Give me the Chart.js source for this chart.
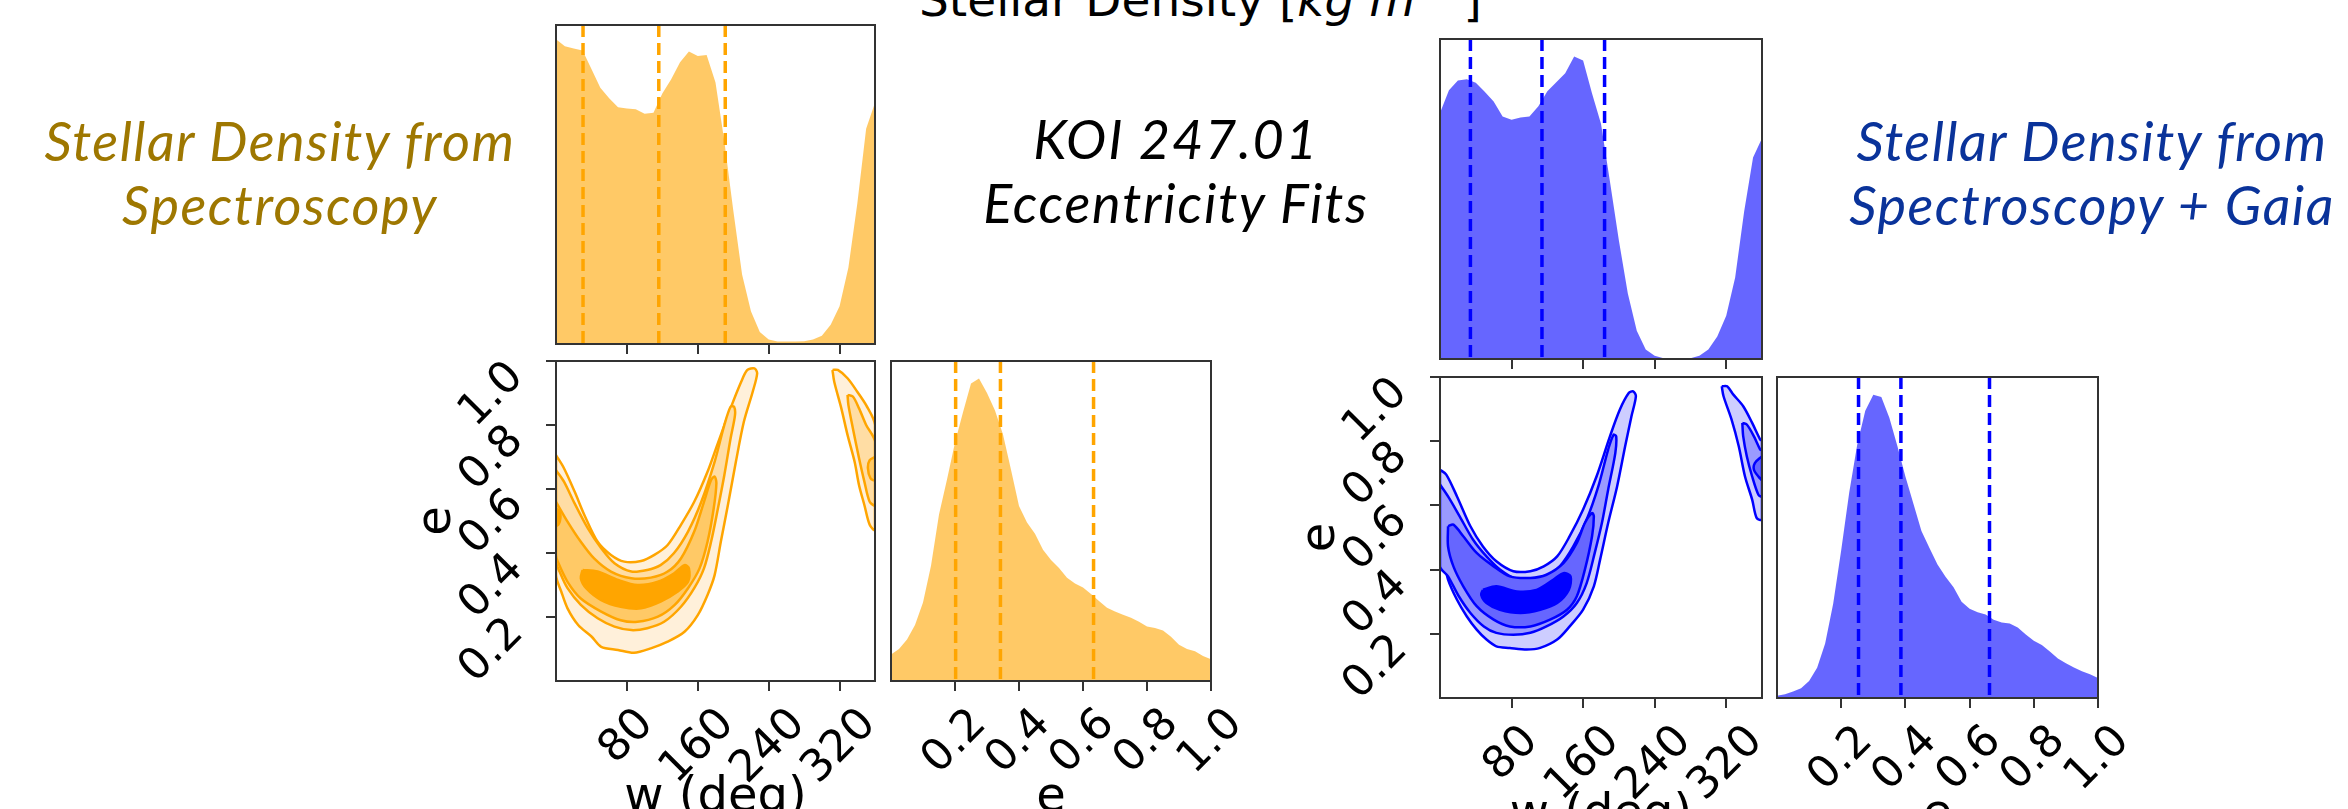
<!DOCTYPE html>
<html lang="en">
<head>
  <meta charset="UTF-8">
  <title>KOI 247.01 Eccentricity Fits</title>
  <script src="https://cdn.jsdelivr.net/npm/chart.js"></script>
  <style>
    html, body {
      margin: 0;
      padding: 0;
      background: #ffffff;
      width: 2348px;
      height: 809px;
      overflow: hidden;
      position: relative;
    }
    .panel { position: absolute; }
    .label {
      position: absolute;
      font-family: Lato, "Open Sans", sans-serif;
      font-style: italic;
      font-size: 54px;
      line-height: 64px;
      letter-spacing: 1.5px;
      text-align: center;
      white-space: nowrap;
      transform: translateX(-50%);
    }
    #title {
      position: absolute;
      left: 919px;
      top: -24px;
      font-family: "DejaVu Sans", sans-serif;
      font-size: 47px;
      line-height: 47px;
      white-space: nowrap;
      color: #000;
    }
    #title sup { font-size: 0.7em; vertical-align: 0.55em; line-height: 0; }
  </style>
</head>
<body>
  <div id="title">Stellar Density [<i>kg m</i><sup>−3</sup>]</div>
  <div class="label" style="left:280px; top:109px; color:#9e7700;">Stellar Density from<br>Spectroscopy</div>
  <div class="label" style="left:1176px; top:107px; color:#000; letter-spacing:1.8px;">KOI 247.01<br>Eccentricity Fits</div>
  <div class="label" style="left:2092px; top:109px; color:#0a339a;">Stellar Density from<br>Spectroscopy + Gaia</div>

  <script>
    // ---- axes ----
    const wTicks = [80, 160, 240, 320];
    const eTicks = [0.2, 0.4, 0.6, 0.8, 1.0];

    // ---- 1D histograms (relative height) ----
    const wBins = [0,10,20,30,40,50,60,70,80,90,100,110,120,130,140,150,160,170,180,190,200,210,220,230,240,250,260,270,280,290,300,310,320,330,340,350,360];
    const orangeW = [0.955,0.933,0.926,0.92,0.862,0.803,0.77,0.742,0.738,0.736,0.722,0.725,0.785,0.83,0.883,0.917,0.903,0.906,0.82,0.635,0.42,0.218,0.103,0.038,0.014,0.008,0.008,0.008,0.009,0.014,0.026,0.06,0.118,0.24,0.44,0.675,0.756];
    const blueW = [0.769,0.84,0.87,0.874,0.863,0.835,0.805,0.758,0.748,0.755,0.758,0.79,0.837,0.865,0.893,0.945,0.933,0.83,0.735,0.555,0.37,0.205,0.088,0.03,0.01,0.002,0,0.001,0.002,0.01,0.03,0.07,0.135,0.255,0.46,0.63,0.69];

    const eBins = [0,0.025,0.05,0.075,0.1,0.125,0.15,0.175,0.2,0.225,0.25,0.275,0.3,0.325,0.35,0.375,0.4,0.425,0.45,0.475,0.5,0.525,0.55,0.575,0.6,0.625,0.65,0.675,0.7,0.725,0.75,0.775,0.8,0.825,0.85,0.875,0.9,0.925,0.95,0.975,1];
    const orangeE = [0.083,0.10,0.13,0.175,0.245,0.36,0.52,0.63,0.745,0.84,0.93,0.945,0.90,0.845,0.77,0.66,0.547,0.495,0.46,0.41,0.378,0.353,0.323,0.305,0.292,0.272,0.25,0.229,0.217,0.207,0.198,0.185,0.17,0.166,0.158,0.138,0.113,0.10,0.093,0.078,0.068];
    const blueE = [0.007,0.012,0.02,0.03,0.053,0.094,0.17,0.294,0.46,0.64,0.79,0.895,0.945,0.938,0.873,0.785,0.69,0.605,0.52,0.467,0.416,0.378,0.345,0.30,0.278,0.267,0.26,0.244,0.235,0.232,0.22,0.198,0.178,0.165,0.145,0.123,0.108,0.095,0.083,0.074,0.062];

    // quantile markers
    const orangeWQ = [30.5, 116, 191];
    const blueWQ = [34, 114, 184];
    const orangeEQ = [0.202, 0.342, 0.633];
    const blueEQ = [0.254, 0.386, 0.662];

    // ---- 2D contours, [w, e] vertices, outer level first ----
    const orangeL1Left = [[0,0.706],[9,0.665],[21,0.592],[32,0.519],[47,0.435],[62,0.394],[77,0.373],[96,0.375],[111,0.394],[126,0.425],[141,0.488],[156,0.56],[171,0.654],[182,0.738],[197,0.852],[209,0.935],[216,0.972],[224,0.977],[227,0.961],[222,0.904],[212,0.81],[203,0.685],[194,0.55],[186,0.435],[179,0.331],[171,0.269],[160,0.206],[145,0.154],[126,0.123],[107,0.102],[88,0.088],[70,0.097],[51,0.107],[40,0.139],[25,0.175],[13,0.227],[6,0.279],[0,0.331],[0,0.706]];
    const orangeL1Right = [[312,0.972],[318,0.972],[329,0.946],[340,0.904],[350,0.862],[360,0.8],[360,0.472],[354,0.488],[348,0.55],[342,0.612],[337,0.685],[329,0.769],[322,0.852],[314,0.935],[312,0.972]];
    const orangeL2Left = [[0,0.659],[9,0.623],[21,0.555],[36,0.477],[51,0.415],[66,0.368],[85,0.342],[103,0.347],[118,0.362],[133,0.399],[149,0.467],[164,0.56],[179,0.685],[190,0.8],[197,0.857],[201,0.857],[202,0.831],[197,0.758],[190,0.644],[182,0.529],[175,0.435],[167,0.352],[156,0.29],[141,0.232],[122,0.185],[103,0.165],[85,0.159],[66,0.17],[47,0.196],[28,0.238],[13,0.29],[4,0.342],[0,0.373],[0,0.659]];
    const orangeL2Right = [[329,0.894],[335,0.889],[342,0.852],[350,0.8],[360,0.748],[360,0.55],[354,0.56],[348,0.623],[342,0.696],[335,0.79],[330,0.862],[329,0.894]];
    const orangeL3Left = [[0,0.56],[13,0.498],[28,0.435],[43,0.383],[62,0.342],[85,0.321],[107,0.323],[126,0.342],[141,0.383],[156,0.467],[167,0.56],[175,0.628],[179,0.639],[181,0.618],[178,0.54],[171,0.435],[162,0.352],[149,0.29],[134,0.238],[115,0.201],[92,0.185],[73,0.19],[51,0.217],[28,0.258],[13,0.31],[2,0.373],[0,0.394],[0,0.56]];
    const orangeL3Right = [[360,0.7],[354,0.69],[352,0.665],[355,0.633],[360,0.628],[360,0.7]];
    const orangeL4 = [[30,0.347],[47,0.342],[70,0.316],[92,0.3],[115,0.31],[133,0.336],[145,0.362],[150,0.352],[149,0.31],[137,0.279],[118,0.248],[96,0.227],[73,0.232],[51,0.253],[34,0.29],[28,0.321],[30,0.347]];
    const orangeL4Edge = [[0,0.54],[4,0.53],[5,0.51],[3,0.49],[0,0.485],[0,0.54]];

    const blueL1Left = [[0,0.711],[7,0.696],[19,0.628],[34,0.535],[48,0.472],[63,0.426],[82,0.395],[101,0.395],[116,0.41],[131,0.441],[145,0.504],[160,0.587],[175,0.69],[190,0.815],[201,0.898],[211,0.95],[216,0.955],[219,0.94],[214,0.877],[207,0.784],[198,0.659],[188,0.545],[179,0.431],[172,0.348],[160,0.275],[145,0.223],[131,0.182],[112,0.156],[97,0.151],[78,0.156],[63,0.161],[52,0.182],[41,0.213],[30,0.254],[19,0.306],[9,0.369],[4,0.431],[0,0.462],[0,0.711]];
    const blueL1Right = [[315,0.971],[321,0.971],[328,0.945],[339,0.909],[349,0.857],[358,0.805],[360,0.8],[360,0.556],[354,0.561],[349,0.618],[341,0.69],[334,0.784],[326,0.867],[317,0.94],[315,0.971]];
    const blueL2Left = [[0,0.665],[9,0.628],[22,0.566],[37,0.493],[52,0.441],[67,0.4],[86,0.369],[104,0.363],[119,0.379],[134,0.41],[149,0.472],[164,0.556],[177,0.659],[188,0.774],[194,0.82],[197,0.815],[196,0.763],[188,0.649],[181,0.545],[173,0.452],[164,0.358],[153,0.296],[138,0.254],[119,0.223],[101,0.203],[82,0.197],[63,0.203],[49,0.223],[34,0.265],[21,0.317],[9,0.379],[0,0.41],[0,0.665]];
    const blueL2Right = [[338,0.857],[343,0.852],[351,0.815],[358,0.774],[360,0.77],[360,0.628],[356,0.633],[349,0.69],[343,0.753],[339,0.815],[338,0.857]];
    const blueL3Left = [[9,0.535],[15,0.54],[26,0.504],[41,0.452],[60,0.41],[78,0.379],[101,0.374],[119,0.384],[138,0.42],[153,0.483],[162,0.545],[170,0.576],[172,0.566],[170,0.504],[162,0.4],[153,0.317],[142,0.275],[123,0.244],[101,0.223],[78,0.223],[60,0.244],[41,0.286],[26,0.348],[15,0.41],[9,0.472],[9,0.535]];
    const blueL3Right = [[360,0.753],[352,0.732],[351,0.711],[356,0.69],[360,0.68],[360,0.753]];
    const blueL4 = [[48,0.337],[63,0.348],[86,0.332],[108,0.337],[127,0.369],[138,0.389],[146,0.379],[144,0.337],[131,0.296],[112,0.275],[90,0.265],[67,0.275],[52,0.296],[46,0.322],[48,0.337]];

    const TICK_PX = 44;
    const TICK_FONT = TICK_PX + 'px "DejaVu Sans"';
    const LABEL_FONT = '48px "DejaVu Sans"';

    // frame, rotated tick labels and axis titles, all placed with the chart's scales
    const cornerPlugin = {
      id: 'corner',
      afterDraw(chart, args, o) {
        const { ctx, chartArea: a } = chart;
        const fmt = (f, v) => f === 'int' ? String(v) : v.toFixed(1);
        const rot = (txt, cx, cy) => {
          ctx.save();
          ctx.translate(cx, cy);
          ctx.rotate(-Math.PI / 4);
          ctx.fillText(txt, 0, 0);
          ctx.restore();
        };
        ctx.save();
        ctx.fillStyle = '#000';
        ctx.font = TICK_FONT;
        ctx.textAlign = 'center';
        ctx.textBaseline = 'middle';
        const extent = txt => (ctx.measureText(txt).width + 0.73 * TICK_PX) * Math.SQRT1_2;
        if (o.xFmt) {
          const sx = chart.scales.x;
          sx.ticks.forEach(t => {
            const txt = fmt(o.xFmt, t.value);
            const ext = extent(txt);
            rot(txt, sx.getPixelForValue(t.value), a.bottom + 25 + ext / 2);
          });
        }
        if (o.yFmt) {
          const sy = chart.scales.y;
          sy.ticks.forEach(t => {
            const txt = fmt(o.yFmt, t.value);
            const ext = extent(txt);
            rot(txt, a.left - 28 - ext / 2, sy.getPixelForValue(t.value) + ext / 2 - 2);
          });
        }
        ctx.font = LABEL_FONT;
        if (o.xTitle) {
          ctx.textBaseline = 'alphabetic';
          ctx.fillText(o.xTitle, (a.left + a.right) / 2, a.bottom + 130);
        }
        if (o.yTitle) {
          ctx.save();
          ctx.translate(a.left - 118, (a.top + a.bottom) / 2);
          ctx.rotate(-Math.PI / 2);
          ctx.textBaseline = 'middle';
          ctx.fillText(o.yTitle, 0, 0);
          ctx.restore();
        }
        ctx.strokeStyle = '#333';
        ctx.lineWidth = 2;
        ctx.strokeRect(a.left, a.top, a.right - a.left, a.bottom - a.top);
        ctx.restore();
      }
    };

    function axis(min, max, ticks, horizontal, size) {
      return {
        type: 'linear',
        min: min,
        max: max,
        afterBuildTicks: s => { s.ticks = ticks.map(v => ({ value: v })); },
        afterFit: s => { if (horizontal) s.height = size; else s.width = size; },
        ticks: { display: false },
        border: { display: false },
        grid: {
          drawOnChartArea: false,
          drawTicks: ticks.length > 1,
          tickLength: 10,
          tickWidth: 2,
          tickColor: '#333',
          color: '#333',
          lineWidth: 2
        }
      };
    }

    function panel(rect, pad, datasets, xr, yr, deco) {
      const div = document.createElement('div');
      div.className = 'panel';
      div.style.left = (rect.l - pad.l) + 'px';
      div.style.top = (rect.t - pad.t) + 'px';
      const cv = document.createElement('canvas');
      cv.width = rect.w + pad.l + pad.r;
      cv.height = rect.h + pad.t + pad.b;
      div.appendChild(cv);
      document.body.appendChild(div);
      new Chart(cv, {
        type: 'scatter',
        data: { datasets: datasets },
        options: {
          responsive: false,
          animation: false,
          events: [],
          layout: { padding: { left: 0, top: pad.t, right: pad.r, bottom: 0 } },
          plugins: { legend: { display: false }, tooltip: { enabled: false }, corner: deco },
          scales: {
            x: axis(xr[0], xr[1], xr[2], true, pad.b),
            y: axis(yr[0], yr[1], yr[2], false, pad.l)
          }
        },
        plugins: [cornerPlugin]
      });
    }

    function hist(bins, vals, color) {
      return {
        data: bins.map((b, i) => ({ x: b, y: vals[i] })),
        showLine: true, fill: 'origin', backgroundColor: color,
        borderWidth: 0, pointRadius: 0, order: 10
      };
    }
    function marks(qs, color) {
      return qs.map(q => ({
        data: [{ x: q, y: 1 }, { x: q, y: 0 }],
        showLine: true, fill: false, borderColor: color, borderWidth: 3.5,
        borderDash: [12, 6], pointRadius: 0, order: 1
      }));
    }
    function contour(pts, fillColor, lineColor, order) {
      return {
        data: pts.map(p => ({ x: p[0], y: p[1] })),
        showLine: true, fill: 'shape', backgroundColor: fillColor,
        borderColor: lineColor, borderWidth: 2.5, tension: 0.3,
        pointRadius: 0, order: order
      };
    }

    function cornerPlot(o) {
      const low = 840;
      panel(o.top, { l: 10, t: 10, r: 10, b: 20 },
        [hist(wBins, o.w, o.fill)].concat(marks(o.wq, o.line)),
        [0, 360, wTicks], [0, 1, [0]], {});
      panel(o.mid, { l: 170, t: 10, r: 8, b: low - (o.mid.t + o.mid.h) },
        o.contours.map(c => contour(c[0], c[1], o.line, c[2])),
        [0, 360, wTicks], [0, 1, eTicks],
        { xFmt: 'int', yFmt: 'dec', xTitle: 'w (deg)', yTitle: 'e' });
      panel(o.side, { l: 8, t: 10, r: 50, b: low - (o.side.t + o.side.h) },
        [hist(eBins, o.e, o.fill)].concat(marks(o.eq, o.line)),
        [0, 1, eTicks], [0, 1, [0]],
        { xFmt: 'dec', xTitle: 'e' });
    }

    const oShades = ['#fff0da', '#ffdda4', '#ffc966', '#ffa500'];
    cornerPlot({
      top: { l: 556, t: 25, w: 319, h: 319 },
      mid: { l: 556, t: 361, w: 319, h: 320 },
      side: { l: 891, t: 361, w: 320, h: 320 },
      w: orangeW, e: orangeE, wq: orangeWQ, eq: orangeEQ,
      fill: 'rgba(255,165,0,0.6)', line: '#ffa500',
      contours: [
        [orangeL1Left, oShades[0], 8], [orangeL1Right, oShades[0], 8],
        [orangeL2Left, oShades[1], 6], [orangeL2Right, oShades[1], 6],
        [orangeL3Left, oShades[2], 4], [orangeL3Right, oShades[2], 4],
        [orangeL4, oShades[3], 2], [orangeL4Edge, oShades[3], 2]
      ]
    });

    const bShades = ['#cdcdff', '#9a9aff', '#6666ff', '#0000ff'];
    cornerPlot({
      top: { l: 1440, t: 39, w: 322, h: 320 },
      mid: { l: 1440, t: 377, w: 322, h: 321 },
      side: { l: 1777, t: 377, w: 321, h: 321 },
      w: blueW, e: blueE, wq: blueWQ, eq: blueEQ,
      fill: 'rgba(0,0,255,0.6)', line: '#0000ff',
      contours: [
        [blueL1Left, bShades[0], 8], [blueL1Right, bShades[0], 8],
        [blueL2Left, bShades[1], 6], [blueL2Right, bShades[1], 6],
        [blueL3Left, bShades[2], 4], [blueL3Right, bShades[2], 4],
        [blueL4, bShades[3], 2]
      ]
    });
  </script>
</body>
</html>
